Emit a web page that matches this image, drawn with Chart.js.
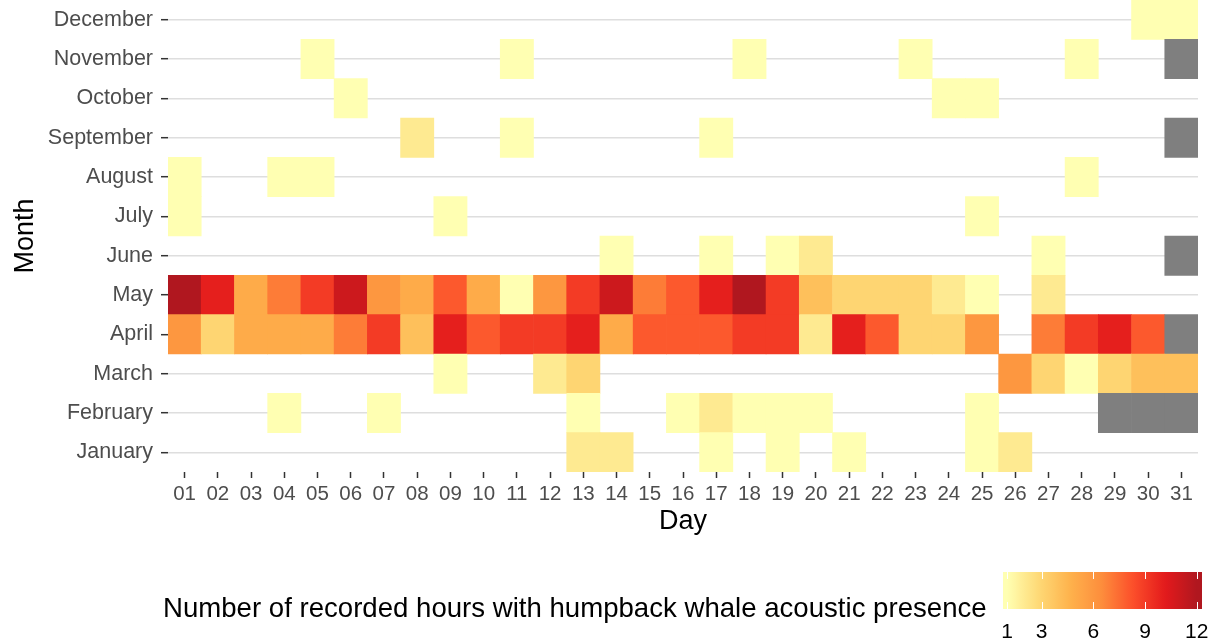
<!DOCTYPE html>
<html>
<head>
<meta charset="utf-8">
<title>Humpback whale acoustic presence</title>
<script src="https://cdn.jsdelivr.net/npm/chart.js@4"></script>
<style>
  html, body { margin: 0; padding: 0; background: #fff; }
  #wrap { width: 1215px; height: 641px; }
</style>
</head>
<body>
<div id="wrap"><canvas id="heatmap"></canvas></div>
<script>
const days = ["01", "02", "03", "04", "05", "06", "07", "08", "09", "10",
  "11", "12", "13", "14", "15", "16", "17", "18", "19", "20",
  "21", "22", "23", "24", "25", "26", "27", "28", "29", "30", "31"];
const months = ["January", "February", "March", "April", "May", "June",
  "July", "August", "September", "October", "November", "December"];

// [day, recorded hours] for each month
const janHours = [[13, 2], [14, 2], [17, 1], [19, 1], [21, 1], [25, 1], [26, 2]];
const febHours = [[4, 1], [7, 1], [13, 1], [16, 1], [17, 2], [18, 1], [19, 1], [20, 1], [25, 1]];
const marHours = [[9, 1], [12, 2], [13, 3], [26, 6], [27, 3], [28, 1], [29, 3], [30, 4], [31, 4]];
const aprHours = [[1, 6], [2, 3], [3, 5], [4, 5], [5, 5], [6, 7], [7, 9], [8, 4], [9, 10], [10, 8],
  [11, 9], [12, 9], [13, 10], [14, 5], [15, 8], [16, 8], [17, 8], [18, 9], [19, 9], [20, 2],
  [21, 10], [22, 8], [23, 3], [24, 3], [25, 6], [27, 7], [28, 9], [29, 10], [30, 8]];
const mayHours = [[1, 12], [2, 10], [3, 5], [4, 7], [5, 9], [6, 11], [7, 6], [8, 5], [9, 8], [10, 5],
  [11, 1], [12, 6], [13, 9], [14, 11], [15, 7], [16, 8], [17, 10], [18, 12], [19, 9], [20, 4],
  [21, 3], [22, 3], [23, 3], [24, 2], [25, 1], [27, 2]];
const junHours = [[14, 1], [17, 1], [19, 1], [20, 2], [27, 1]];
const julHours = [[1, 1], [9, 1], [25, 1]];
const augHours = [[1, 1], [4, 1], [5, 1], [28, 1]];
const sepHours = [[8, 2], [11, 1], [17, 1]];
const octHours = [[6, 1], [24, 1], [25, 1]];
const novHours = [[5, 1], [11, 1], [18, 1], [23, 1], [28, 1]];
const decHours = [[30, 1], [31, 1]];

// [month, day] that do not exist in the calendar
const missingDays = [[2, 29], [2, 30], [2, 31], [4, 31], [6, 31], [9, 31], [11, 31]];

const legendBreaks = [1, 3, 6, 9, 12];
const palette = ["#FFFFB2", "#FED976", "#FEB24C", "#FD8D3C", "#FC4E2A", "#E31A1C", "#B0171F"];

const monthHours = [janHours, febHours, marHours, aprHours, mayHours, junHours,
  julHours, augHours, sepHours, octHours, novHours, decHours];
const family = "'Liberation Sans', Arial, Helvetica, sans-serif";

const hexToRgb = h => [1, 3, 5].map(i => parseInt(h.slice(i, i + 2), 16));

function hoursColor(v) {
  const t = Math.min(Math.max((v - 1) / 11, 0), 1) * (palette.length - 1);
  const i = Math.min(Math.floor(t), palette.length - 2);
  const f = t - i;
  const a = hexToRgb(palette[i]);
  const b = hexToRgb(palette[i + 1]);
  const c = a.map((x, k) => Math.round(x + (b[k] - x) * f));
  return `rgb(${c.join(",")})`;
}

const datasets = months.map((name, mi) => {
  const m = mi + 1;
  const hours = Array(days.length).fill(null);
  monthHours[mi].forEach(([d, v]) => { hours[d - 1] = v; });
  const missing = missingDays.filter(([mm]) => mm === m).map(([, d]) => d);
  return {
    label: name,
    hours,
    data: days.map((d, i) => (hours[i] !== null || missing.includes(i + 1)) ? [m - 0.5, m + 0.5] : null),
    backgroundColor: days.map((d, i) => hours[i] !== null ? hoursColor(hours[i]) : "#7F7F7F")
  };
});

const colorbarLegend = {
  id: "colorbarLegend",
  afterDraw(chart) {
    const c = chart.ctx;
    const barLeft = 1003, barRight = 1202, barTop = 572, barBottom = 609;
    const xOf = v => 1007 + (v - 1) * 17.25;
    c.save();

    c.fillStyle = "#000";
    c.font = `27.6px ${family}`;
    c.textAlign = "left";
    c.textBaseline = "alphabetic";
    c.fillText("Number of recorded hours with humpback whale acoustic presence", 163, 617);

    const grad = c.createLinearGradient(barLeft, 0, barRight, 0);
    grad.addColorStop(0, hoursColor(1));
    for (let v = 1; v <= 12; v += 0.25) {
      const off = (xOf(v) - barLeft) / (barRight - barLeft);
      if (off > 0 && off < 1) grad.addColorStop(off, hoursColor(v));
    }
    grad.addColorStop(1, hoursColor(12));
    c.fillStyle = grad;
    c.fillRect(barLeft, barTop, barRight - barLeft, barBottom - barTop);

    c.strokeStyle = "#fff";
    c.lineWidth = 1;
    c.font = `21px ${family}`;
    c.textAlign = "center";
    c.fillStyle = "#000";
    legendBreaks.forEach(v => {
      const x = Math.round(xOf(v)) + 0.5;
      c.beginPath();
      c.moveTo(x, barTop);
      c.lineTo(x, barTop + 7);
      c.moveTo(x, barBottom - 7);
      c.lineTo(x, barBottom);
      c.stroke();
      c.fillText(String(v), xOf(v), 638);
    });
    c.restore();
  }
};

new Chart(document.getElementById("heatmap"), {
  type: "bar",
  data: { labels: days, datasets },
  options: {
    responsive: true,
    maintainAspectRatio: false,
    animation: false,
    layout: { padding: { left: 0, right: 17, top: 0, bottom: 101 } },
    datasets: {
      bar: { grouped: false, barPercentage: 1, categoryPercentage: 1, borderWidth: 0, borderSkipped: false }
    },
    plugins: { legend: { display: false }, tooltip: { enabled: false } },
    scales: {
      x: {
        grid: { drawOnChartArea: false, offset: false, tickLength: 6, tickColor: "#333", tickWidth: 1.5 },
        border: { display: false },
        ticks: { color: "#4D4D4D", font: { size: 20.5, family }, padding: 4, maxRotation: 0, autoSkip: false },
        title: { display: true, text: "Day", color: "#000", font: { size: 27, family }, padding: { top: 0, bottom: 2 } },
        afterFit: s => { s.height = 68; }
      },
      y: {
        min: 0.5,
        max: 12.5,
        afterBuildTicks: s => { s.ticks = months.map((_, i) => ({ value: i + 1 })); },
        grid: { color: "#DEDEDE", lineWidth: 1.4, tickLength: 7, tickColor: "#333", tickWidth: 1.5 },
        border: { display: false },
        ticks: { color: "#4D4D4D", font: { size: 21.5, family }, padding: 8, callback: v => months[v - 1] },
        title: { display: true, text: "Month", color: "#000", font: { size: 27, family }, padding: { top: 9, bottom: 0 } },
        afterFit: s => { s.width = 168; s.paddingTop = 0; s.paddingBottom = 0; }
      }
    }
  },
  plugins: [colorbarLegend]
});
</script>
</body>
</html>
